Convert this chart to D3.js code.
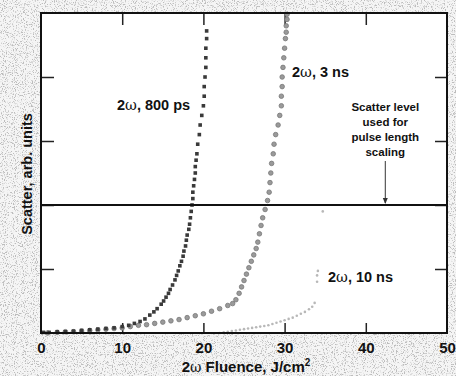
<!DOCTYPE html>
<html>
  <head>
    <script src="https://d3js.org/d3.v7.min.js"></script>
    <style>
      body { margin: 0; background: #fff; }
      svg { display: block; font-family: "Liberation Sans", Arial, sans-serif; }
      .tick text { font-weight: bold; font-size: 15px; fill: #111; }
      .tick line { stroke: #222; stroke-width: 1.5px; }
      .label { font-weight: bold; fill: #111; }
    </style>
  </head>
  <body>
    <svg id="chart" width="456" height="376"></svg>
    <script>
      // values: [fluence J/cm2, scatter arb. units]
      const ps800 = [[0.3,0.01],[1,0.01],[2,0.02],[3,0.02],[4,0.03],[5,0.04],[6,0.05],[7,0.06],[8,0.07],[9,0.08],
        [10,0.1],[10.8,0.12],[11.5,0.15],[12.2,0.18],[12.8,0.22],[13.4,0.28],[13.9,0.33],[14.3,0.38],[14.8,0.45],
        [15.1,0.5],[15.4,0.56],[15.7,0.62],[15.9,0.68],[16.2,0.75],[16.5,0.83],[16.7,0.9],[16.9,0.97],[17.1,1.05],
        [17.3,1.12],[17.5,1.2],[17.6,1.28],[17.8,1.36],[17.9,1.45],[18.0,1.53],[18.2,1.62],[18.3,1.7],[18.4,1.8],
        [18.5,1.9],[18.6,2.0],[18.7,2.1],[18.7,2.2],[18.8,2.3],[18.9,2.4],[19.0,2.5],[19.0,2.6],[19.1,2.7],
        [19.2,2.8],[19.3,2.95],[19.5,3.1],[19.6,3.25],[19.8,3.4],[20.0,3.55],[20.1,3.7],[20.1,3.85],[20.2,4.0],
        [20.3,4.15],[20.3,4.3],[20.3,4.45],[20.4,4.6],[20.4,4.72]];
      const ns3 = [[0.8,0.0],[2,0.01],[3,0.02],[4,0.02],[5,0.03],[6,0.04],[7,0.05],[8,0.06],[9,0.07],[10,0.08],
        [11,0.1],[12,0.12],[13,0.13],[14,0.15],[15,0.17],[16,0.19],[17,0.21],[18,0.24],[19,0.27],[20,0.3],
        [21,0.34],[22,0.38],[23,0.43],[23.6,0.46],[24.0,0.52],[24.4,0.62],[24.7,0.72],[25.0,0.82],[25.3,0.92],
        [25.6,1.02],[25.9,1.12],[26.2,1.22],[26.5,1.32],[26.7,1.42],[26.9,1.55],[27.1,1.68],[27.3,1.8],
        [27.6,1.93],[27.9,2.07],[28.1,2.2],[28.2,2.35],[28.3,2.5],[28.4,2.65],[28.6,2.8],[28.7,2.95],
        [28.9,3.1],[29.2,3.25],[29.4,3.4],[29.6,3.55],[29.6,3.7],[29.7,3.85],[29.7,4.0],[29.8,4.15],
        [29.9,4.3],[30.0,4.45],[30.1,4.6],[30.2,4.7],[30.2,4.8],[30.3,4.9],[30.3,4.98]];
      const ns10 = [[22.0,0.0],[22.5,0.01],[23,0.02],[23.5,0.03],[24,0.04],[24.5,0.05],[25,0.06],[25.5,0.07],
        [26,0.08],[26.5,0.09],[27,0.1],[27.5,0.11],[28,0.12],[28.5,0.14],[29,0.16],[29.5,0.18],[30,0.2],
        [30.5,0.22],[31,0.24],[31.5,0.27],[32,0.3],[32.5,0.33],[33,0.37],[33.4,0.41],[33.7,0.47],
        [34.0,0.8],[34.0,0.9],[34.1,0.97],[34.7,1.9]];
      const xTicks = [0, 10, 20, 30, 40, 50];
      const yTicks = [1, 2, 3, 4];
      const scatterLevel = 2;
      const arrowX = 42.4;

      const svg = d3.select("#chart");
      const W = 456, H = 376;
      const m = {left: 41, right: 9, top: 13, bottom: 43};

      // scanned paper look
      const defs = svg.append("defs");
      const f = defs.append("filter").attr("id", "paper")
        .attr("x", 0).attr("y", 0).attr("width", "100%").attr("height", "100%");
      f.append("feTurbulence").attr("type", "fractalNoise").attr("baseFrequency", 0.9)
        .attr("numOctaves", 2).attr("seed", 4).attr("result", "n");
      f.append("feColorMatrix").attr("type", "matrix")
        .attr("values", "0 0 0 0 0.5  0 0 0 0 0.5  0 0 0 0 0.5  6 0 0 0 -3.2");
      svg.append("rect").attr("width", W).attr("height", H).attr("fill", "#f5f5f5");
      svg.append("rect").attr("width", W).attr("height", H).attr("filter", "url(#paper)");

      const x = d3.scaleLinear().domain([0, 50]).range([m.left, W - m.right]);
      const y = d3.scaleLinear().domain([0, 5]).range([H - m.bottom, m.top]);

      svg.append("rect")
        .attr("x", x(0)).attr("y", y(5))
        .attr("width", x(50) - x(0)).attr("height", y(0) - y(5))
        .attr("fill", "#fff");

      // axes with inward ticks
      const gx = svg.append("g").attr("transform", `translate(0,${y(0)})`)
        .call(d3.axisBottom(x).tickValues(xTicks).tickSize(-10).tickSizeOuter(0).tickPadding(9));
      svg.append("g").attr("transform", `translate(0,${y(5)})`)
        .call(d3.axisTop(x).tickValues(xTicks.slice(1, -1)).tickSize(-12).tickSizeOuter(0).tickFormat(""));
      svg.append("g").attr("transform", `translate(${x(0)},0)`)
        .call(d3.axisLeft(y).tickValues(yTicks).tickSize(-13).tickSizeOuter(0).tickFormat(""));
      svg.append("g").attr("transform", `translate(${x(50)},0)`)
        .call(d3.axisRight(y).tickValues(yTicks).tickSize(-12).tickSizeOuter(0).tickFormat(""));
      svg.selectAll(".domain").remove();
      gx.selectAll(".tick line").filter(d => d === 0 || d === 50).remove();

      // 10 ns
      svg.append("g").selectAll("circle").data(ns10).join("circle")
        .attr("cx", d => x(d[0])).attr("cy", d => y(d[1])).attr("r", 1.3)
        .attr("fill", "#b8b8b8");

      // 3 ns
      svg.append("g").selectAll("circle").data(ns3).join("circle")
        .attr("cx", d => x(d[0])).attr("cy", d => y(d[1])).attr("r", 2.3)
        .attr("fill", "#9a9a9a").attr("stroke", "#777").attr("stroke-width", 0.8);

      // 800 ps
      svg.append("g").selectAll("rect").data(ps800).join("rect")
        .attr("x", d => x(d[0]) - 1.8).attr("y", d => y(d[1]) - 1.8)
        .attr("width", 3.6).attr("height", 3.6)
        .attr("fill", "#3a3a3a");

      // frame and scatter level line
      svg.append("rect")
        .attr("x", x(0)).attr("y", y(5))
        .attr("width", x(50) - x(0)).attr("height", y(0) - y(5))
        .attr("fill", "none").attr("stroke", "#111").attr("stroke-width", 2);
      svg.append("line")
        .attr("x1", x(0)).attr("x2", x(50)).attr("y1", y(scatterLevel)).attr("y2", y(scatterLevel))
        .attr("stroke", "#111").attr("stroke-width", 2);

      // annotation with arrow
      const note = ["Scatter level", "used for", "pulse length", "scaling"];
      svg.append("text").attr("class", "label").attr("text-anchor", "middle")
        .style("font-size", "11.5px")
        .selectAll("tspan").data(note).join("tspan")
        .attr("x", x(arrowX)).attr("y", (d, i) => 111 + i * 15).text(d => d);
      svg.append("line")
        .attr("x1", x(arrowX)).attr("x2", x(arrowX))
        .attr("y1", 161).attr("y2", y(scatterLevel) - 2)
        .attr("stroke", "#333").attr("stroke-width", 1);
      svg.append("path")
        .attr("d", `M${x(arrowX) - 2.5},${y(scatterLevel) - 7}L${x(arrowX) + 2.5},${y(scatterLevel) - 7}L${x(arrowX)},${y(scatterLevel) - 1}Z`)
        .attr("fill", "#333");

      // series labels
      function omegaLabel(px, py, rest, size) {
        const t = svg.append("text").attr("class", "label").attr("x", px).attr("y", py)
          .style("font-size", size + "px");
        t.append("tspan").text("2");
        t.append("tspan").style("font-family", "'DejaVu Serif', serif").style("font-weight", "normal")
          .style("font-size", size + "px").text("ω");
        t.append("tspan").text(rest);
        return t;
      }
      omegaLabel(117, 110, ", 800 ps", 14.5);
      omegaLabel(292, 77, ", 3 ns", 14.5);
      omegaLabel(328, 282, ", 10 ns", 14.5);

      // axis titles
      const xt = svg.append("text").attr("class", "label").attr("text-anchor", "middle")
        .attr("x", 246).attr("y", 372).style("font-size", "15px");
      xt.append("tspan").text("2");
      xt.append("tspan").style("font-family", "'DejaVu Serif', serif").style("font-weight", "normal")
        .style("font-size", "14px").text("ω");
      xt.append("tspan").text(" Fluence, J/cm");
      xt.append("tspan").attr("dy", -6).style("font-size", "10px").text("2");

      svg.append("text").attr("class", "label").attr("text-anchor", "middle")
        .attr("transform", "translate(32,174) rotate(-90)")
        .style("font-size", "14.5px")
        .text("Scatter, arb. units");
    </script>
  </body>
</html>
